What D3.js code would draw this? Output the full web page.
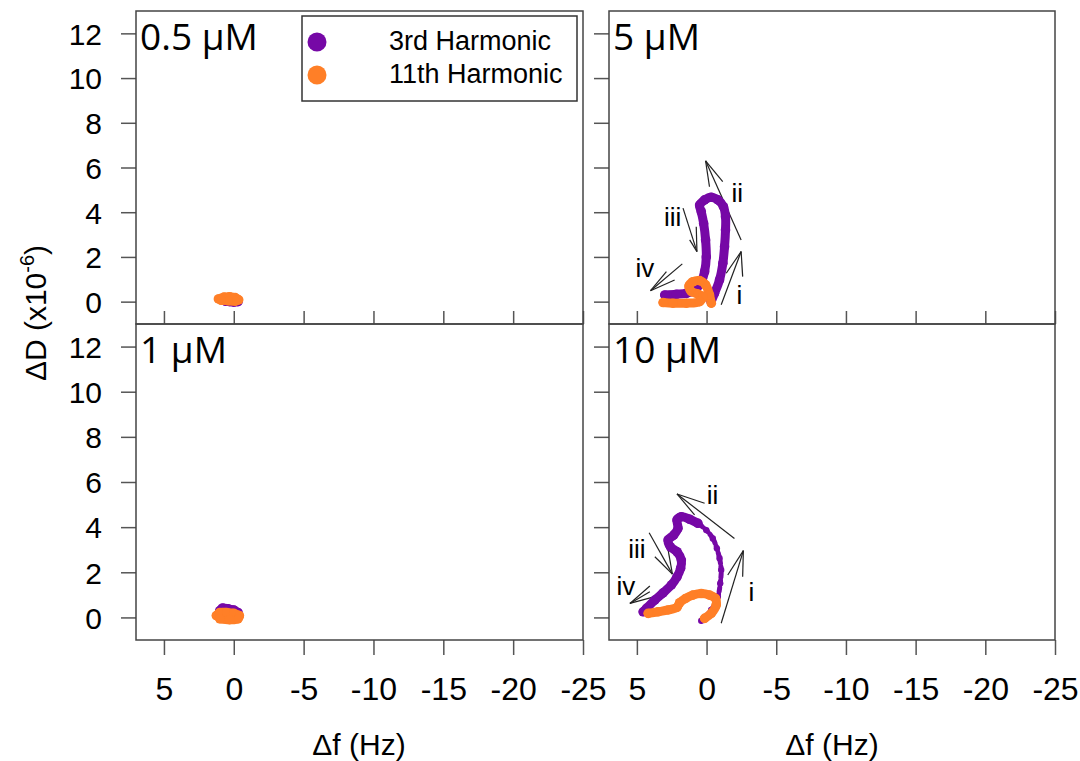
<!DOCTYPE html>
<html>
<head>
<meta charset="utf-8">
<script src="https://cdn.jsdelivr.net/npm/d3@7"></script>
<style>
  body { margin: 0; background: #fff; }
  text { font-family: "Liberation Sans", Arial, sans-serif; fill: #000; }
  .plabel { font-family: "Open Sans", "Noto Sans", sans-serif; }
</style>
</head>
<body>
<svg id="chart" width="1080" height="761"></svg>
<script>
// ---- data: Δf (Hz) vs ΔD (x10^-6) ----
const panelLabels = ["0.5 μM", "1 μM", "5 μM", "10 μM"];
const seriesNames = ["3rd Harmonic", "11th Harmonic"];
const xTicks = [5, 0, -5, -10, -15, -20, -25];
const yTicks = [0, 2, 4, 6, 8, 10, 12];

const h3_05 = [[0.6, 0.02], [0.3, 0.0], [0.0, -0.02], [-0.3, 0.0]];
const h11_05 = [[1.1, 0.12], [0.7, 0.2], [0.3, 0.22], [-0.1, 0.18], [-0.35, 0.08],
                [-0.1, 0.02], [0.4, 0.04], [0.9, 0.06]];

const h3_1 = [[1.0, 0.3], [0.8, 0.42], [0.4, 0.38], [0.0, 0.33], [-0.3, 0.22]];
const h11_1 = [[1.25, 0.08], [1.0, 0.22], [0.5, 0.22], [0.0, 0.18], [-0.4, 0.08],
               [-0.3, -0.06], [0.3, -0.1], [1.0, -0.06]];

const h3_5 = [[-0.33, 0.0], [-0.57, 0.37], [-0.93, 0.97], [-1.17, 1.72], [-1.29, 2.46],
              [-1.36, 3.21], [-1.36, 3.8], [-1.21, 4.25], [-0.81, 4.55], [-0.33, 4.67],
              [0.14, 4.55], [0.5, 4.32], [0.38, 4.02], [0.21, 3.5], [0.07, 2.76],
              [0.02, 2.0], [0.14, 1.34], [0.38, 0.89], [0.86, 0.52], [1.45, 0.37],
              [2.16, 0.33], [3.0, 0.3]];
const h11_5 = [[-0.34, -0.07], [-0.21, 0.3], [0.07, 0.75], [0.5, 0.94], [0.98, 0.89],
               [1.26, 0.7], [1.09, 0.45], [0.62, 0.34], [0.26, 0.22], [0.5, 0.0],
               [1.45, -0.07], [2.41, -0.07], [3.12, -0.04]];

const h3_10 = [[0.38, -0.15], [-0.33, 0.33], [-0.81, 0.92], [-0.98, 1.51], [-1.05, 2.1],
               [-0.93, 2.62], [-0.74, 3.06], [-0.45, 3.5], [0.02, 3.87], [0.62, 4.17],
               [1.21, 4.35], [1.81, 4.46], [2.12, 4.32], [2.05, 3.95], [2.36, 3.65],
               [2.76, 3.43], [2.59, 3.13], [2.12, 2.91], [1.81, 2.54], [1.86, 2.18],
               [2.12, 1.8], [2.52, 1.44], [3.12, 1.09], [3.71, 0.77], [4.31, 0.4],
               [4.55, 0.25]];
const h11_10 = [[0.14, -0.04], [-0.34, 0.18], [-0.69, 0.55], [-0.64, 0.84], [-0.21, 0.99],
                [0.38, 1.06], [0.98, 0.99], [1.5, 0.84], [1.93, 0.65], [2.12, 0.45],
                [2.76, 0.33], [3.48, 0.25], [4.19, 0.18]];

// arrow annotations: tip, tail + two head strokes, label anchor (all in data units)
const arrows_5 = [
  { text: "i",   tip: [-2.48, 2.24], from: [[-1.05, -0.14], [-1.41, 1.27], [-2.59, 1.12]], at: [-2.36, 0.3] },
  { text: "ii",  tip: [0.07, 6.3],   from: [[-2.48, 2.76], [-0.21, 5.14], [-1.16, 5.37]],  at: [-2.21, 4.86] },
  { text: "iii", tip: [0.69, 2.24],  from: [[1.69, 4.18], [0.74, 3.35], [1.21, 2.76]],     at: [2.43, 3.79] },
  { text: "iv",  tip: [4.02, 0.49],  from: [[1.74, 1.69], [2.88, 1.34], [2.29, 0.97]],     at: [4.43, 1.51] }
];
const arrows_10 = [
  { text: "i",   tip: [-2.64, 2.96], from: [[-1.05, -0.26], [-1.52, 1.88], [-2.59, 1.8]],  at: [-3.21, 1.13] },
  { text: "ii",  tip: [2.12, 5.47],  from: [[-2.0, 3.5], [0.14, 5.06], [0.86, 4.54]],      at: [-0.43, 5.42] },
  { text: "iii", tip: [2.45, 1.92],  from: [[4.12, 3.75], [2.76, 2.99], [3.71, 2.69]],     at: [5.0, 3.03] },
  { text: "iv",  tip: [5.5, 0.62],   from: [[4.07, 1.39], [3.71, 0.92], [4.07, 1.14]],     at: [5.79, 1.39] }
];

const colors = ["#7608a6", "#ff7f27"];

// ---- layout ----
const svg = d3.select("#chart");
const cols = [[136, 583], [609, 1055]];
const rows = [[11, 324], [324, 640]];

// thin: number of leading points of the 3rd-harmonic trace that were sampled sparsely
const panels = [
  { label: panelLabels[0], series: [h3_05, h11_05], arrows: [], c: 0, r: 0, thin: 0 },
  { label: panelLabels[1], series: [h3_1, h11_1], arrows: [], c: 0, r: 1, thin: 0 },
  { label: panelLabels[2], series: [h3_5, h11_5], arrows: arrows_5, c: 1, r: 0, thin: 0 },
  { label: panelLabels[3], series: [h3_10, h11_10], arrows: arrows_10, c: 1, r: 1, thin: 9 }
];

const line = d3.line().curve(d3.curveCatmullRom.alpha(0.5));

panels.forEach(p => {
  const [x0, x1] = cols[p.c];
  const [y0, y1] = rows[p.r];
  const x = d3.scaleLinear().domain([7, -25]).range([x0, x1]);
  const y = d3.scaleLinear().domain([-1, 13]).range([y1, y0]);
  const g = svg.append("g");

  // y axis (outer ticks; labels only on left column)
  const yAx = d3.axisLeft(y).tickValues(yTicks).tickSize(15).tickPadding(19);
  if (p.c === 1) yAx.tickFormat("");
  const ya = g.append("g").attr("transform", `translate(${x0},0)`).call(yAx);
  ya.select(".domain").remove();
  ya.selectAll(".tick line").attr("stroke", "#555").attr("stroke-width", 1.5);
  ya.selectAll(".tick text").attr("font-size", 30).attr("font-family", "Liberation Sans, Arial, sans-serif").attr("dy", "0.36em");

  // x axis
  if (p.r === 1) {
    const xAx = d3.axisBottom(x).tickValues(xTicks).tickSize(15).tickPadding(22);
    const xa = g.append("g").attr("transform", `translate(0,${y1})`).call(xAx);
    xa.select(".domain").remove();
    xa.selectAll(".tick line").attr("stroke", "#555").attr("stroke-width", 1.5);
    xa.selectAll(".tick text").attr("font-size", 32).attr("font-family", "Liberation Sans, Arial, sans-serif")
      .text(d => d < 0 ? "-" + Math.abs(d) : d);
  } else {
    const xAx = d3.axisTop(x).tickValues(xTicks).tickSize(13).tickFormat("");
    const xa = g.append("g").attr("transform", `translate(0,${y1})`).call(xAx);
    xa.select(".domain").remove();
    xa.selectAll(".tick line").attr("stroke", "#555").attr("stroke-width", 1.5);
  }

  // frame
  g.append("rect").attr("x", x0).attr("y", y0).attr("width", x1 - x0).attr("height", y1 - y0)
    .attr("fill", "none").attr("stroke", "#444").attr("stroke-width", 1.5);

  // arrows
  p.arrows.forEach(a => {
    a.from.forEach(f => {
      g.append("line")
        .attr("x1", x(f[0])).attr("y1", y(f[1]))
        .attr("x2", x(a.tip[0])).attr("y2", y(a.tip[1]))
        .attr("stroke", "#222").attr("stroke-width", 1.2);
    });
    g.append("text").attr("x", x(a.at[0])).attr("y", y(a.at[1]))
      .attr("text-anchor", "middle").attr("dy", "0.36em")
      .attr("font-size", 26).text(a.text);
  });

  // traces (3rd first, 11th on top)
  p.series.forEach((s, i) => {
    const pts = s.map(d => [x(d[0]), y(d[1])]);
    const split = i === 0 ? p.thin : 0;
    if (split > 0) {
      g.append("path").attr("d", line(pts.slice(0, split + 1))).attr("fill", "none")
        .attr("stroke", colors[i]).attr("stroke-width", 5)
        .attr("stroke-dasharray", "4 3").attr("stroke-linecap", "round");
    }
    g.append("path").attr("d", line(pts.slice(split))).attr("fill", "none")
      .attr("stroke", colors[i]).attr("stroke-width", 9)
      .attr("stroke-linecap", "round").attr("stroke-linejoin", "round");
    g.selectAll(null).data(pts).join("circle")
      .attr("cx", d => d[0]).attr("cy", d => d[1])
      .attr("r", (d, k) => k < split ? 3.2 : 4.8)
      .attr("fill", colors[i]);
  });

  // panel label
  g.append("text").attr("class", "plabel").attr("x", x0 + 4).attr("y", y0 + 39)
    .attr("font-size", 37).text(p.label);
});

// legend
const lg = svg.append("g");
lg.append("rect").attr("x", 302).attr("y", 16).attr("width", 275).attr("height", 85)
  .attr("fill", "#fff").attr("stroke", "#333").attr("stroke-width", 1.5);
seriesNames.forEach((n, i) => {
  const cy = 42 + i * 33;
  lg.append("circle").attr("cx", 317).attr("cy", cy).attr("r", 9.5).attr("fill", colors[i]);
  lg.append("text").attr("x", 389).attr("y", cy + 8).attr("font-size", 27).text(n);
});

// axis titles
[359, 832].forEach(cx => {
  svg.append("text").attr("x", cx).attr("y", 755).attr("text-anchor", "middle")
    .attr("font-size", 30).text("Δf (Hz)");
});
const yt = svg.append("text").attr("transform", "translate(46,313) rotate(-90)")
  .attr("text-anchor", "middle").attr("font-size", 30);
yt.append("tspan").text("ΔD (x10");
yt.append("tspan").attr("font-size", 20).attr("dy", -12).text("-6");
yt.append("tspan").attr("dy", 12).text(")");
</script>
</body>
</html>
